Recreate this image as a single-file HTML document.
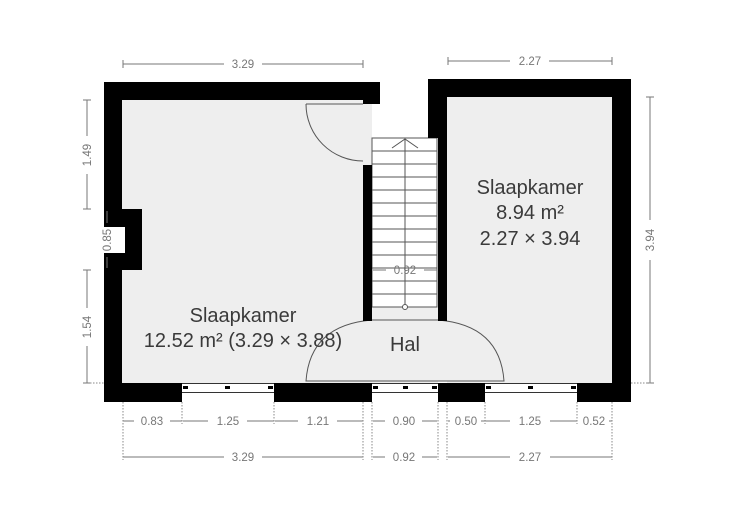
<!DOCTYPE html>
<html><head><meta charset="utf-8"><style>
html,body{margin:0;padding:0;background:#fff;}
svg{display:block;}
.d{stroke:#777;stroke-width:1;fill:none}
.dt{font-family:"Liberation Sans",sans-serif;font-size:11.5px;fill:#777;text-anchor:middle}
.ext{stroke:#888;stroke-width:1;stroke-dasharray:1.5 1.5;fill:none}
.lbl{font-family:"Liberation Sans",sans-serif;font-size:20px;fill:#3a3a3a;text-anchor:middle}
</style></head><body>
<svg width="736" height="520" viewBox="0 0 736 520" xmlns="http://www.w3.org/2000/svg">
<rect x="122" y="100" width="250" height="283" fill="#eeeeee"/>
<rect x="447" y="97" width="165" height="286" fill="#eeeeee"/>
<rect x="372" y="307" width="66" height="76" fill="#eeeeee"/>
<path d="M306,381 Q310,325 372,320 L438,320 Q500,325 504,381 Z" fill="#eeeeee" stroke="#555" stroke-width="1"/>
<rect x="372" y="138" width="65" height="169" fill="#fff" stroke="#555" stroke-width="1"/>
<g stroke="#555" stroke-width="1">
<line x1="372" y1="151" x2="437" y2="151"/><line x1="372" y1="164" x2="437" y2="164"/>
<line x1="372" y1="177" x2="437" y2="177"/><line x1="372" y1="190" x2="437" y2="190"/>
<line x1="372" y1="203" x2="437" y2="203"/><line x1="372" y1="216" x2="437" y2="216"/>
<line x1="372" y1="229" x2="437" y2="229"/><line x1="372" y1="242" x2="437" y2="242"/>
<line x1="372" y1="255" x2="437" y2="255"/><line x1="372" y1="268" x2="437" y2="268"/>
<line x1="372" y1="281" x2="437" y2="281"/><line x1="372" y1="294" x2="437" y2="294"/>
<line x1="405" y1="139" x2="405" y2="305"/>
<polyline points="392,148 405,139 418,148" fill="none"/>
</g>
<circle cx="405" cy="307" r="2.5" fill="#fff" stroke="#555"/>
<g fill="#000">
<rect x="104" y="82" width="276" height="18"/>
<rect x="363" y="82" width="17" height="22"/>
<rect x="104" y="82" width="18" height="127"/>
<rect x="104" y="209" width="38" height="61"/>
<rect x="104" y="270" width="18" height="132"/>
<rect x="363" y="165" width="9" height="156"/>
<rect x="428" y="79" width="203" height="18"/>
<rect x="428" y="79" width="19" height="59"/>
<rect x="438" y="138" width="9" height="183"/>
<rect x="612" y="79" width="19" height="323"/>
<rect x="104" y="383" width="78" height="19"/>
<rect x="274" y="383" width="89" height="19"/>
<rect x="363" y="383" width="9" height="19"/>
<rect x="438" y="383" width="47" height="19"/>
<rect x="577" y="383" width="54" height="19"/>
</g>
<rect x="104" y="227" width="21" height="26" fill="#fff"/>
<g stroke="#333" stroke-width="1">
<line x1="182" y1="383.5" x2="274" y2="383.5"/><line x1="182" y1="392.5" x2="274" y2="392.5"/>
<line x1="372" y1="383.5" x2="438" y2="383.5"/><line x1="372" y1="392.5" x2="438" y2="392.5"/>
<line x1="485" y1="383.5" x2="577" y2="383.5"/><line x1="485" y1="392.5" x2="577" y2="392.5"/>
</g>
<g fill="#000">
<rect x="183" y="386" width="5" height="3"/><rect x="225" y="386" width="5" height="3"/><rect x="268" y="386" width="5" height="3"/>
<rect x="373" y="386" width="5" height="3"/><rect x="403" y="386" width="5" height="3"/><rect x="432" y="386" width="5" height="3"/>
<rect x="486" y="386" width="5" height="3"/><rect x="528" y="386" width="5" height="3"/><rect x="571" y="386" width="5" height="3"/>
</g>
<path d="M306,104 A57,57 0 0 0 363,161" fill="none" stroke="#555" stroke-width="1"/>
<line x1="306" y1="104" x2="363" y2="104" stroke="#555"/>
<g class="d">
<line x1="123" y1="64" x2="224" y2="64"/><line x1="262" y1="64" x2="363" y2="64"/>
<line x1="123" y1="60" x2="123" y2="68"/><line x1="363" y1="60" x2="363" y2="68"/>
<line x1="448" y1="61" x2="510" y2="61"/><line x1="549" y1="61" x2="612" y2="61"/>
<line x1="448" y1="57" x2="448" y2="65"/><line x1="612" y1="57" x2="612" y2="65"/>
<line x1="87" y1="100" x2="87" y2="136"/><line x1="87" y1="174" x2="87" y2="209"/>
<line x1="83" y1="100" x2="91" y2="100"/><line x1="83" y1="209" x2="91" y2="209"/>
<line x1="107" y1="211" x2="107" y2="223"/><line x1="107" y1="257" x2="107" y2="268"/>
<line x1="87" y1="270" x2="87" y2="308"/><line x1="87" y1="346" x2="87" y2="383"/>
<line x1="83" y1="270" x2="91" y2="270"/><line x1="83" y1="383" x2="91" y2="383"/>
<line x1="650" y1="97" x2="650" y2="220"/><line x1="650" y1="260" x2="650" y2="383"/>
<line x1="646" y1="97" x2="654" y2="97"/><line x1="646" y1="383" x2="654" y2="383"/>
<line x1="123" y1="421" x2="134" y2="421"/><line x1="170" y1="421" x2="182" y2="421"/>
<line x1="183" y1="421" x2="208" y2="421"/><line x1="247" y1="421" x2="274" y2="421"/>
<line x1="275" y1="421" x2="298" y2="421"/><line x1="337" y1="421" x2="363" y2="421"/>
<line x1="373" y1="421" x2="385" y2="421"/><line x1="422" y1="421" x2="437" y2="421"/>
<line x1="448" y1="421" x2="450" y2="421"/><line x1="481" y1="421" x2="485" y2="421"/>
<line x1="485" y1="421" x2="510" y2="421"/><line x1="550" y1="421" x2="577" y2="421"/>
<line x1="609" y1="421" x2="612" y2="421"/>
<line x1="123" y1="457" x2="224" y2="457"/><line x1="262" y1="457" x2="363" y2="457"/>
<line x1="373" y1="457" x2="385" y2="457"/><line x1="422" y1="457" x2="437" y2="457"/>
<line x1="448" y1="457" x2="510" y2="457"/><line x1="550" y1="457" x2="612" y2="457"/>
<line x1="373" y1="270" x2="386" y2="270"/><line x1="424" y1="270" x2="437" y2="270"/>
</g>
<g class="ext">
<line x1="123" y1="402" x2="123" y2="460"/><line x1="182" y1="402" x2="182" y2="424"/>
<line x1="274" y1="402" x2="274" y2="424"/><line x1="363" y1="402" x2="363" y2="460"/>
<line x1="372" y1="402" x2="372" y2="460"/><line x1="438" y1="402" x2="438" y2="460"/>
<line x1="447" y1="402" x2="447" y2="460"/><line x1="485" y1="402" x2="485" y2="424"/>
<line x1="577" y1="402" x2="577" y2="424"/><line x1="612" y1="402" x2="612" y2="460"/>
<line x1="90" y1="383" x2="104" y2="383"/><line x1="631" y1="383" x2="652" y2="383"/>
</g>
<g class="dt">
<text x="243" y="68">3.29</text>
<text x="530" y="65">2.27</text>
<text x="152" y="425">0.83</text>
<text x="228" y="425">1.25</text>
<text x="318" y="425">1.21</text>
<text x="404" y="425">0.90</text>
<text x="466" y="425">0.50</text>
<text x="530" y="425">1.25</text>
<text x="594" y="425">0.52</text>
<text x="243" y="461">3.29</text>
<text x="404" y="461">0.92</text>
<text x="530" y="461">2.27</text>
<text x="405" y="274">0.92</text>
<text transform="translate(91,155) rotate(-90)">1.49</text>
<text transform="translate(111,240) rotate(-90)">0.85</text>
<text transform="translate(91,327) rotate(-90)">1.54</text>
<text transform="translate(654,240) rotate(-90)">3.94</text>
</g>
<g class="lbl">
<text x="243" y="322">Slaapkamer</text>
<text x="243" y="347">12.52 m² (3.29 × 3.88)</text>
<text x="405" y="351">Hal</text>
<text x="530" y="194">Slaapkamer</text>
<text x="530" y="219">8.94 m²</text>
<text x="530" y="245">2.27 × 3.94</text>
</g>
</svg>
</body></html>
